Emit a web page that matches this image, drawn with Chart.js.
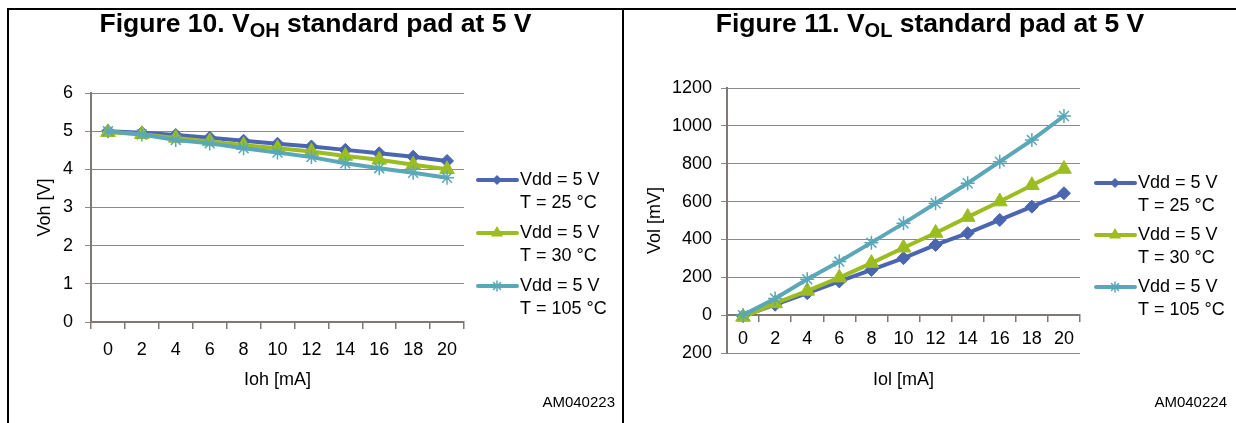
<!DOCTYPE html>
<html><head><meta charset="utf-8">
<script src="https://cdn.jsdelivr.net/npm/chart.js@4.4.0/dist/chart.umd.min.js"></script>
<style>
html,body{margin:0;padding:0;background:#fff;}
#page{position:relative;width:1236px;height:423px;overflow:hidden;background:#fff;font-family:"Liberation Sans",Arial,sans-serif;color:#000;}
.bar{position:absolute;background:#000;}
.title{position:absolute;top:8px;font-weight:bold;font-size:26.5px;line-height:30px;text-align:center;white-space:nowrap;}
.title sub{font-size:20px;vertical-align:-5px;line-height:0;}
.code{position:absolute;top:393px;font-size:15px;line-height:18px;white-space:nowrap;}
canvas{position:absolute;top:0;}
</style></head>
<body>
<div id="page">
  <canvas id="c1" width="620" height="423" style="left:0px"></canvas>
  <canvas id="c2" width="612" height="423" style="left:624px"></canvas>
  <div class="title" style="left:9px;width:613px;">Figure 10. V<sub>OH</sub> standard pad at 5 V</div>
  <div class="title" style="left:624px;width:612px;">Figure 11. V<sub>OL</sub> standard pad at 5 V</div>
  <div class="code" style="right:621px;">AM040223</div>
  <div class="code" style="right:9px;">AM040224</div>
  <div class="bar" style="left:7px;top:8px;width:1229px;height:2px;"></div>
  <div class="bar" style="left:7px;top:8px;width:2px;height:415px;"></div>
  <div class="bar" style="left:622px;top:8px;width:2px;height:415px;"></div>
</div>
<script>
// ---- data ----
const categories = ['0','2','4','6','8','10','12','14','16','18','20'];
const seriesLabels = [['Vdd = 5 V','T = 25 °C'],['Vdd = 5 V','T = 30 °C'],['Vdd = 5 V','T = 105 °C']];
const vohT25  = [5.00, 4.96, 4.90, 4.83, 4.75, 4.67, 4.60, 4.51, 4.42, 4.33, 4.22];
const vohT30  = [4.97, 4.92, 4.82, 4.73, 4.63, 4.55, 4.47, 4.35, 4.25, 4.12, 4.00];
const vohT105 = [5.00, 4.91, 4.77, 4.68, 4.55, 4.44, 4.32, 4.16, 4.03, 3.91, 3.78];
const volT25  = [-5, 55, 116, 178, 239, 301, 371, 433, 503, 573, 644];
const volT30  = [-10, 62, 128, 198, 275, 356, 434, 518, 600, 686, 772];
const volT105 = [0, 88, 190, 283, 383, 485, 591, 697, 811, 925, 1052];
const vohTicks = ['0','1','2','3','4','5','6'];
const volTicks = ['200','0','200','400','600','800','1000','1200'];

const FONT = '"Liberation Sans", Arial, sans-serif';
const colors = ['#4a66b0', '#9cbd20', '#5aa7b9'];
const GRID = '#8a8a8a', AXIS = '#7f7873';

function drawMarker(ctx, style, x, y, r, color) {
  ctx.save();
  ctx.fillStyle = color; ctx.strokeStyle = color;
  ctx.beginPath();
  if (style === 'rectRot') {
    ctx.moveTo(x, y - r); ctx.lineTo(x + r, y); ctx.lineTo(x, y + r); ctx.lineTo(x - r, y); ctx.closePath(); ctx.fill();
  } else if (style === 'triangle') {
    ctx.moveTo(x, y - r); ctx.lineTo(x + r * 0.866, y + r / 2); ctx.lineTo(x - r * 0.866, y + r / 2); ctx.closePath(); ctx.fill();
  } else {
    ctx.lineWidth = 1.5;
    ctx.moveTo(x - r * 0.7, y - r * 0.7); ctx.lineTo(x + r * 0.7, y + r * 0.7);
    ctx.moveTo(x + r * 0.7, y - r * 0.7); ctx.lineTo(x - r * 0.7, y + r * 0.7);
    ctx.moveTo(x, y - r); ctx.lineTo(x, y + r);
    ctx.stroke();
  }
  ctx.restore();
}

const decorPlugin = {
  id: 'decor',
  afterDraw(chart, args, o) {
    const ctx = chart.ctx, ca = chart.chartArea;
    ctx.save();
    ctx.fillStyle = '#000';
    ctx.font = '18px ' + FONT;
    ctx.textBaseline = 'middle';
    // legend
    const x0 = ca.right + o.dx;
    chart.data.datasets.forEach((ds, i) => {
      const y = o.y0 + i * o.dy;
      ctx.strokeStyle = ds.borderColor; ctx.lineWidth = 4; ctx.lineCap = 'round';
      ctx.beginPath(); ctx.moveTo(x0 + 2, y); ctx.lineTo(x0 + 41, y); ctx.stroke();
      drawMarker(ctx, ds.pointStyle, x0 + 21, y, ds.pointStyle === 'triangle' ? 7 : 5, ds.borderColor);
      ctx.fillStyle = '#000'; ctx.textAlign = 'left';
      ctx.fillText(ds.label[0], x0 + 44, y);
      ctx.fillText(ds.label[1], x0 + 44, y + 23);
    });
    // x title
    ctx.textAlign = 'center';
    ctx.fillText(o.xTitle, (ca.left + ca.right) / 2, o.xTitleY);
    // y title
    ctx.translate(o.yTitleX, (ca.top + ca.bottom) / 2);
    ctx.rotate(-Math.PI / 2);
    ctx.fillText(o.yTitle, 0, 0);
    ctx.restore();
  }
};

function makeChart(id, data, yMin, yMax, yStep, yLabels, layout, decor) {
  const styles = ['rectRot', 'triangle', 'star'];
  const radii = [6.5, 8.5, 7];
  const datasets = data.map((d, i) => ({
    label: seriesLabels[i],
    data: d,
    borderColor: colors[i],
    backgroundColor: colors[i],
    borderWidth: 4,
    pointStyle: styles[i],
    pointRadius: radii[i],
    pointBorderWidth: styles[i] === 'star' ? 1.5 : 1,
    pointBackgroundColor: colors[i],
    pointBorderColor: colors[i],
    tension: 0,
    order: 2 - i
  }));
  return new Chart(document.getElementById(id), {
    type: 'line',
    data: { labels: categories, datasets },
    plugins: [decorPlugin],
    options: {
      responsive: false, animation: false, devicePixelRatio: 1,
      layout: { padding: layout.padding },
      plugins: { legend: { display: false }, tooltip: { enabled: false }, title: { display: false }, decor },
      scales: {
        x: {
          type: 'category', position: { y: Math.max(0, yMin) }, offset: true,
          grid: { offset: true, drawOnChartArea: false, drawTicks: true, tickLength: 6, color: AXIS, lineWidth: 1.5 },
          border: { color: AXIS, width: 2 },
          ticks: { color: '#000', font: { family: FONT, size: 18 }, padding: layout.xPad, maxRotation: 0, autoSkip: false }
        },
        y: {
          min: yMin, max: yMax,
          grid: { color: GRID, lineWidth: 1, tickLength: 6, drawTicks: true },
          border: { color: AXIS, width: 2 },
          ticks: { stepSize: yStep, color: '#000', font: { family: FONT, size: 18 }, padding: layout.yPad,
                   callback: (v, i) => yLabels[i] },
          afterFit: (s) => { s.width = layout.yWidth; }
        }
      }
    }
  });
}

makeChart('c1', [vohT25, vohT30, vohT105], 0, 6, 1, vohTicks,
  { padding: { left: 0, right: 156, top: 93, bottom: 101 }, yWidth: 91, xPad: 11, yPad: 12 },
  { dx: 12, y0: 180, dy: 53, xTitle: 'Ioh [mA]', xTitleY: 380, yTitle: 'Voh [V]', yTitleX: 45 });

makeChart('c2', [volT25, volT30, volT105], -200, 1200, 200, volTicks,
  { padding: { left: 0, right: 156, top: 88, bottom: 70 }, yWidth: 103, xPad: 7, yPad: 9 },
  { dx: 14, y0: 183, dy: 52, xTitle: 'Iol [mA]', xTitleY: 380, yTitle: 'Vol [mV]', yTitleX: 31 });
</script>
</body></html>
